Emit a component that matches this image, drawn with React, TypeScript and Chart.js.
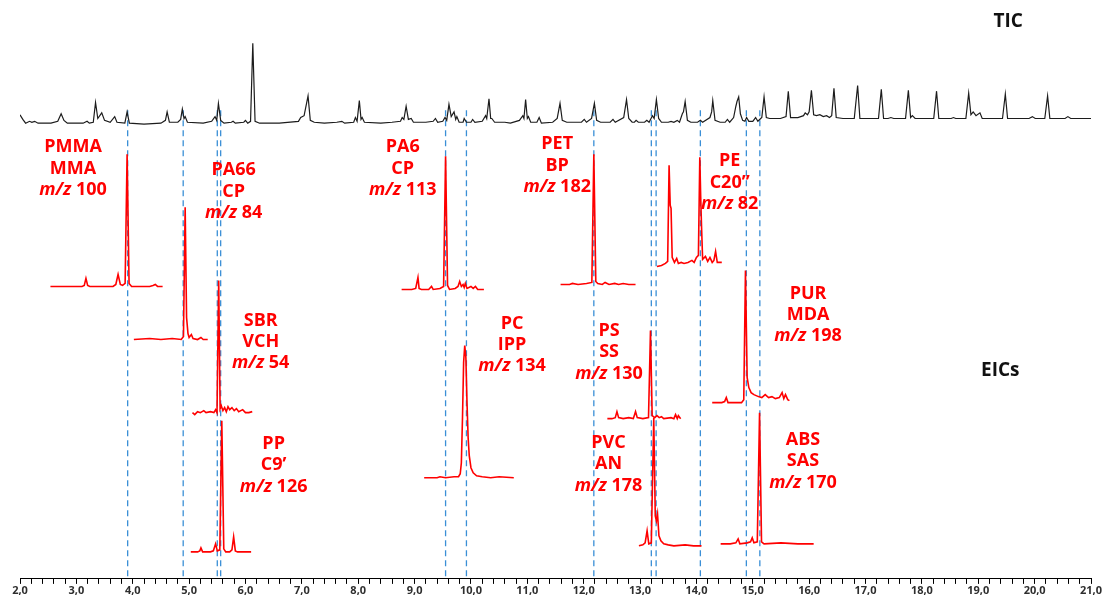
import React, { useEffect, useRef } from 'react';
import Chart from 'chart.js/auto';

// ---------- axis ----------
const X_MIN = 2;
const X_MAX = 21;
const X_MINOR_STEP = 0.2;

// ---------- TIC trace: [retention time (min), intensity above baseline] ----------
const ticTrace: [number, number][] = [
  [2.00, 9], [2.05, 4], [2.10, 0], [2.17, 2], [2.21, 1], [2.26, 2], [2.32, 0], [2.55, 0], [2.67, 2], [2.73, 10], [2.78, 3], [2.84, 0],
  [3.12, 0], [3.19, 2], [3.23, 0], [3.30, 1], [3.34, 22], [3.38, 5], [3.45, 11], [3.50, 3], [3.60, 1], [3.68, 7], [3.72, 1], [3.86, 0], [3.90, 12], [3.94, 0],
  [4.20, -1], [4.50, 0], [4.58, 3], [4.61, 12], [4.65, 1], [4.80, 1], [4.85, 4], [4.88, 15], [4.91, 5], [4.93, 7], [4.97, 1],
  [5.25, 0], [5.40, 2], [5.46, 7], [5.49, 3], [5.52, 21], [5.56, 3], [5.62, 0], [5.75, 1], [5.78, 2], [5.82, 0], [5.97, 1], [6.00, 3], [6.04, 0],
  [6.09, 2], [6.13, 85], [6.17, 2], [6.25, 0],
  [6.60, 0], [6.94, 2], [6.98, 6], [7.04, 8], [7.11, 29], [7.15, 3], [7.22, 1], [7.40, 0], [7.62, 1], [7.71, 2], [7.76, 0],
  [7.92, 1], [7.95, 6], [7.98, 2], [8.02, 24], [8.05, 4], [8.07, 6], [8.11, 1], [8.40, 0], [8.60, 1],
  [8.75, 2], [8.78, 6], [8.81, 4], [8.85, 18], [8.89, 4], [8.94, 5], [8.98, 1],
  [9.20, 1], [9.33, 2], [9.37, 5], [9.41, 1], [9.50, 2], [9.54, 6], [9.57, 3], [9.61, 20], [9.65, 7], [9.70, 12], [9.73, 4], [9.75, 7], [9.79, 1],
  [9.86, 1], [9.88, 5], [9.92, 1], [10.00, 1], [10.03, 4], [10.07, 1], [10.20, 2], [10.26, 8], [10.28, 5], [10.32, 26], [10.35, 5], [10.37, 5], [10.42, 1],
  [10.60, 1], [10.70, 0], [10.86, 3], [10.92, 8], [10.94, 5], [10.97, 25], [11.00, 5], [11.02, 7], [11.06, 1], [11.17, 1], [11.21, 6], [11.25, 0],
  [11.45, 1], [11.53, 5], [11.58, 21], [11.62, 3], [11.70, 1], [11.96, 1], [12.01, 4], [12.05, 1],
  [12.14, 5], [12.19, 21], [12.23, 3], [12.30, 1], [12.47, 1], [12.52, 4], [12.56, 1],
  [12.71, 6], [12.76, 25], [12.80, 5], [12.86, 1], [12.90, 1], [12.93, 3], [12.97, 1], [13.08, 1], [13.12, 3], [13.16, 1],
  [13.22, 8], [13.25, 5], [13.29, 25], [13.33, 5], [13.38, 1], [13.50, 1], [13.55, 2], [13.60, 1], [13.66, 3], [13.70, 1],
  [13.75, 10], [13.77, 12], [13.80, 23], [13.84, 3], [13.90, 1], [14.02, 1], [14.07, 3], [14.11, 1],
  [14.24, 6], [14.27, 12], [14.29, 24], [14.33, 3], [14.42, 1], [14.51, 1], [14.55, 4], [14.59, 1],
  [14.66, 6], [14.70, 18], [14.72, 23], [14.75, 28], [14.78, 10], [14.82, 3], [14.86, 2], [14.89, 6], [14.93, 2],
  [15.00, 2], [15.05, 6], [15.09, 2], [15.16, 6], [15.20, 28], [15.24, 6], [15.30, 5],
  [15.49, 5], [15.59, 7], [15.63, 34], [15.67, 6], [15.80, 6], [15.90, 8], [15.93, 11], [15.97, 9], [16.00, 12], [16.04, 35], [16.08, 9],
  [16.13, 8], [16.19, 9], [16.25, 7], [16.31, 8], [16.36, 6], [16.40, 8], [16.44, 37], [16.48, 6], [16.60, 5],
  [16.80, 5], [16.86, 40], [16.90, 5], [17.00, 5], [17.23, 5], [17.28, 36], [17.32, 5], [17.40, 5], [17.45, 6], [17.50, 5],
  [17.71, 5], [17.76, 35], [17.80, 6], [17.83, 8], [17.88, 5], [17.95, 5], [18.21, 5], [18.26, 34], [18.30, 5], [18.40, 5], [18.52, 5], [18.56, 6], [18.60, 5],
  [18.78, 5], [18.83, 32], [18.87, 9], [18.91, 12], [18.96, 8], [19.03, 11], [19.07, 5], [19.15, 5],
  [19.43, 5], [19.48, 31], [19.52, 5], [19.65, 5], [19.90, 5], [19.96, 7], [20.01, 5],
  [20.18, 5], [20.23, 29], [20.27, 5], [20.40, 5], [20.54, 5], [20.59, 7], [20.64, 5], [20.80, 5], [21.00, 5],
];

// ---------- EIC traces: [retention time (min), intensity above own baseline] ----------
const pmmaTrace: [number, number][] = [
  [2.54, 0], [3.10, 0], [3.14, 1], [3.17, 8], [3.20, 1], [3.24, 0], [3.65, 0], [3.70, 2], [3.74, 12], [3.78, 2], [3.82, 1],
  [3.865, 3], [3.90, 132], [3.935, 3], [3.98, 0], [4.30, 0], [4.36, 1], [4.40, 2], [4.44, 0], [4.53, 0],
];
const pa66Trace: [number, number][] = [
  [4.02, 0], [4.30, 1], [4.50, 0], [4.70, 1], [4.86, 0], [4.90, 3], [4.93, 132], [4.955, 22], [4.98, 6], [5.00, 2],
  [5.04, 5], [5.07, 1], [5.15, 0], [5.21, 2], [5.25, 0], [5.33, 0],
];
const sbrTrace: [number, number][] = [
  [5.06, 0], [5.10, -2], [5.15, 1], [5.20, 0], [5.26, 2], [5.30, 0], [5.38, 1], [5.44, 0], [5.47, 3], [5.495, 0],
  [5.525, 132], [5.55, 4], [5.57, 7], [5.60, 2], [5.63, 5], [5.66, 1], [5.69, 6], [5.72, 3], [5.76, 5], [5.80, 2],
  [5.84, 4], [5.88, 1], [5.95, 3], [6.00, 0], [6.06, 0], [6.12, 1],
];
const ppTrace: [number, number][] = [
  [5.03, 0], [5.15, 0], [5.19, 1], [5.21, 4], [5.24, 0], [5.38, 0], [5.43, 1], [5.47, 8], [5.50, 1], [5.545, 2],
  [5.58, 131], [5.615, 3], [5.65, 0], [5.72, 0], [5.76, 2], [5.79, 15], [5.82, 1], [5.86, 0], [6.10, 0],
];
const pa6Trace: [number, number][] = [
  [8.77, 0], [8.95, 0], [9.02, 1], [9.06, 12], [9.08, 1], [9.12, 0], [9.25, 0], [9.30, 3], [9.33, 0], [9.45, 1],
  [9.515, 3], [9.55, 133], [9.585, 4], [9.62, 0], [9.72, 1], [9.77, 3], [9.80, 8], [9.83, 3], [9.86, 5], [9.88, 2],
  [9.90, 6], [9.93, 1], [10.00, 3], [10.04, 1], [10.08, 3], [10.12, 0], [10.23, 0],
];
const pcTrace: [number, number][] = [
  [9.17, 0], [9.40, 0], [9.45, 1], [9.55, 0], [9.70, 1], [9.78, 1], [9.81, 4], [9.83, 15], [9.85, 60], [9.87, 115],
  [9.89, 132], [9.91, 120], [9.93, 75], [9.95, 40], [9.97, 22], [10.00, 10], [10.04, 5], [10.10, 2], [10.20, 1],
  [10.35, 0], [10.50, 1], [10.76, 0],
];
const petTrace: [number, number][] = [
  [11.59, 0], [11.75, 0], [11.80, 1], [11.90, 0], [12.05, 1], [12.145, 2], [12.18, 130], [12.215, 3], [12.25, 1],
  [12.33, 0], [12.38, 2], [12.45, 0], [12.55, 1], [12.62, 0], [12.70, 1], [12.80, 0], [12.92, 0],
];
const peTrace: [number, number][] = [
  [13.30, -1], [13.38, 0], [13.45, 2], [13.49, 4], [13.515, 100], [13.535, 60], [13.55, 57], [13.57, 8], [13.61, 3],
  [13.65, 7], [13.68, 2], [13.73, 3], [13.78, 2], [13.85, 3], [13.92, 5], [13.96, 3], [14.00, 8], [14.035, 10],
  [14.06, 108], [14.075, 70], [14.09, 40], [14.11, 6], [14.16, 9], [14.20, 4], [14.24, 8], [14.28, 3], [14.31, 5],
  [14.34, 14], [14.37, 3], [14.40, 3], [14.45, 3],
];
const psTrace: [number, number][] = [
  [12.42, 0], [12.50, 0], [12.56, 1], [12.59, 7], [12.62, 1], [12.70, 0], [12.80, 1], [12.88, 0], [12.92, 7],
  [12.95, 1], [13.05, 0], [13.15, 1], [13.185, 88], [13.215, 3], [13.26, 1], [13.30, 3], [13.34, 1], [13.38, 2],
  [13.42, 0], [13.55, 1], [13.60, 0], [13.63, 4], [13.66, 0], [13.68, 3], [13.72, 0],
];
const pvcTrace: [number, number][] = [
  [12.98, 0], [13.05, 1], [13.09, 3], [13.125, 15], [13.155, 2], [13.20, 3], [13.243, 128], [13.27, 30], [13.29, 25],
  [13.31, 32], [13.335, 10], [13.37, 5], [13.42, 2], [13.50, 1], [13.60, 0], [13.80, 1], [13.95, 0], [14.09, 0],
];
const purTrace: [number, number][] = [
  [14.28, 0], [14.45, 0], [14.50, 1], [14.53, 5], [14.56, 0], [14.80, 0], [14.84, 3], [14.87, 132], [14.90, 25],
  [14.93, 15], [14.97, 10], [15.02, 8], [15.10, 6], [15.16, 5], [15.22, 8], [15.28, 5], [15.34, 6], [15.40, 4],
  [15.47, 5], [15.52, 10], [15.55, 4], [15.58, 8], [15.62, 3], [15.65, 2],
];
const absTrace: [number, number][] = [
  [14.43, 0], [14.60, 0], [14.70, 1], [14.74, 5], [14.77, 0], [14.90, 1], [14.96, 2], [14.99, 6], [15.02, 1],
  [15.08, 2], [15.12, 131], [15.155, 2], [15.20, 0], [15.50, 1], [15.80, 0], [16.08, 0],
];

// ---------- marker lines (retention times of the marker compounds) ----------
const markerTimes: number[] = [3.91, 4.895, 5.50, 5.56, 9.55, 9.92, 12.18, 13.20, 13.285, 14.07, 14.886, 15.125];

// ---------- label texts ----------
const eicLabelTexts: string[][] = [
  ['PMMA', 'MMA', 'm/z 100'],
  ['PA66', 'CP', 'm/z 84'],
  ['SBR', 'VCH', 'm/z 54'],
  ['PP', 'C9\u2019', 'm/z 126'],
  ['PA6', 'CP', 'm/z 113'],
  ['PC', 'IPP', 'm/z 134'],
  ['PET', 'BP', 'm/z 182'],
  ['PE', 'C20\u201D', 'm/z 82'],
  ['PS', 'SS', 'm/z 130'],
  ['PVC', 'AN', 'm/z 178'],
  ['PUR', 'MDA', 'm/z 198'],
  ['ABS', 'SAS', 'm/z 170'],
];
const panelTitles: string[] = ['TIC', 'EICs'];

// ---------- layout (vertical stacking offsets, panel scaling & label anchors, in chart units) ----------
const Y_MAX = 578;
const TIC_BASE = 455;
const TIC_SCALE = 0.94;
const MARKER_TOP = 468;
const eicTraces = [pmmaTrace, pa66Trace, sbrTrace, ppTrace, pa6Trace, pcTrace, petTrace, peTrace, psTrace, pvcTrace, purTrace, absTrace];
const eicBases = [292, 239, 166, 27, 289, 101, 294, 313, 160, 33, 176, 35];
const eicLabelAnchors: [number, number][] = [
  [2.94, 431], [5.79, 408], [6.27, 258], [6.50, 135], [8.79, 431], [10.73, 255],
  [11.53, 434], [14.59, 417], [12.45, 248], [12.44, 136], [15.98, 285], [15.89, 139],
];
const titleAnchors: [number, number][] = [[19.53, 556], [19.39, 208]];
const LINE_STEP = 21.4;

const FONT = "'Open Sans', 'Noto Sans', sans-serif";
const RED = '#ff0000';

const labelPlugin = {
  id: 'eicLabels',
  afterDatasetsDraw(chart: any) {
    const { ctx, scales } = chart;
    const xs = scales.x;
    const ys = scales.y;
    ctx.save();
    ctx.textBaseline = 'middle';
    eicLabelTexts.forEach((lines, i) => {
      const [t, v] = eicLabelAnchors[i];
      const cx = xs.getPixelForValue(t);
      lines.forEach((line, j) => {
        const cy = ys.getPixelForValue(v - j * LINE_STEP);
        ctx.fillStyle = RED;
        if (line.startsWith('m/z')) {
          const rest = line.slice(3);
          ctx.font = `italic bold 18px ${FONT}`;
          const w1 = ctx.measureText('m/z').width;
          ctx.font = `bold 18px ${FONT}`;
          const w2 = ctx.measureText(rest).width;
          const x0 = cx - (w1 + w2) / 2;
          ctx.textAlign = 'left';
          ctx.font = `italic bold 18px ${FONT}`;
          ctx.fillText('m/z', x0, cy);
          ctx.font = `bold 18px ${FONT}`;
          ctx.fillText(rest, x0 + w1, cy);
        } else {
          ctx.textAlign = 'center';
          ctx.font = `bold 18px ${FONT}`;
          ctx.fillText(line, cx, cy);
        }
      });
    });
    ctx.fillStyle = '#111111';
    ctx.textAlign = 'center';
    ctx.font = `bold 19px ${FONT}`;
    panelTitles.forEach((title, i) => {
      const [t, v] = titleAnchors[i];
      ctx.fillText(title, xs.getPixelForValue(t), ys.getPixelForValue(v));
    });
    ctx.restore();
  },
};

export default function App() {
  const canvasRef = useRef<HTMLCanvasElement | null>(null);

  useEffect(() => {
    const canvas = canvasRef.current;
    if (!canvas) return;

    const datasets: any[] = [];
    datasets.push({
      data: ticTrace.map(([t, h]) => ({ x: t, y: TIC_BASE + h * TIC_SCALE })),
      borderColor: '#1c1c1c',
      borderWidth: 1.2,
      pointRadius: 0,
      tension: 0,
      order: 0,
    });
    eicTraces.forEach((trace, i) => {
      datasets.push({
        data: trace.map(([t, h]) => ({ x: t, y: eicBases[i] + h })),
        borderColor: RED,
        borderWidth: 1.6,
        pointRadius: 0,
        tension: 0,
        order: 0,
      });
    });
    markerTimes.forEach((t) => {
      datasets.push({
        data: [{ x: t, y: MARKER_TOP }, { x: t, y: 2 }],
        borderColor: '#3a8fd6',
        borderWidth: 1.3,
        borderDash: [6, 4],
        pointRadius: 0,
        order: 1,
      });
    });

    const chart = new Chart(canvas, {
      type: 'line',
      data: { datasets },
      options: {
        animation: false,
        responsive: false,
        devicePixelRatio: 1,
        layout: { padding: { left: 20, right: 17, top: 0, bottom: -3 } },
        plugins: { legend: { display: false }, tooltip: { enabled: false } },
        scales: {
          x: {
            type: 'linear',
            min: X_MIN,
            max: X_MAX,
            grid: { display: true, drawOnChartArea: false, drawTicks: true, tickLength: 5, tickColor: '#000', tickWidth: 1 },
            border: { display: true, color: '#000', width: 1 },
            ticks: {
              stepSize: X_MINOR_STEP,
              autoSkip: false,
              maxRotation: 0,
              padding: 1,
              color: '#2e2e2e',
              font: { family: FONT, size: 11, weight: 'bold', lineHeight: 1.1 },
              callback: (value: any) => {
                const v = Number(value);
                return Math.abs(v - Math.round(v)) < 1e-6 ? Math.round(v).toFixed(1).replace('.', ',') : '';
              },
            },
          },
          y: { type: 'linear', min: 0, max: Y_MAX, display: false },
        },
      },
      plugins: [labelPlugin],
    });
    return () => chart.destroy();
  }, []);

  return (
    <div style={{ position: 'fixed', left: 0, top: 0, width: 1108, height: 595, background: '#ffffff' }}>
      <canvas ref={canvasRef} width={1108} height={595} style={{ display: 'block', width: 1108, height: 595 }} />
    </div>
  );
}
